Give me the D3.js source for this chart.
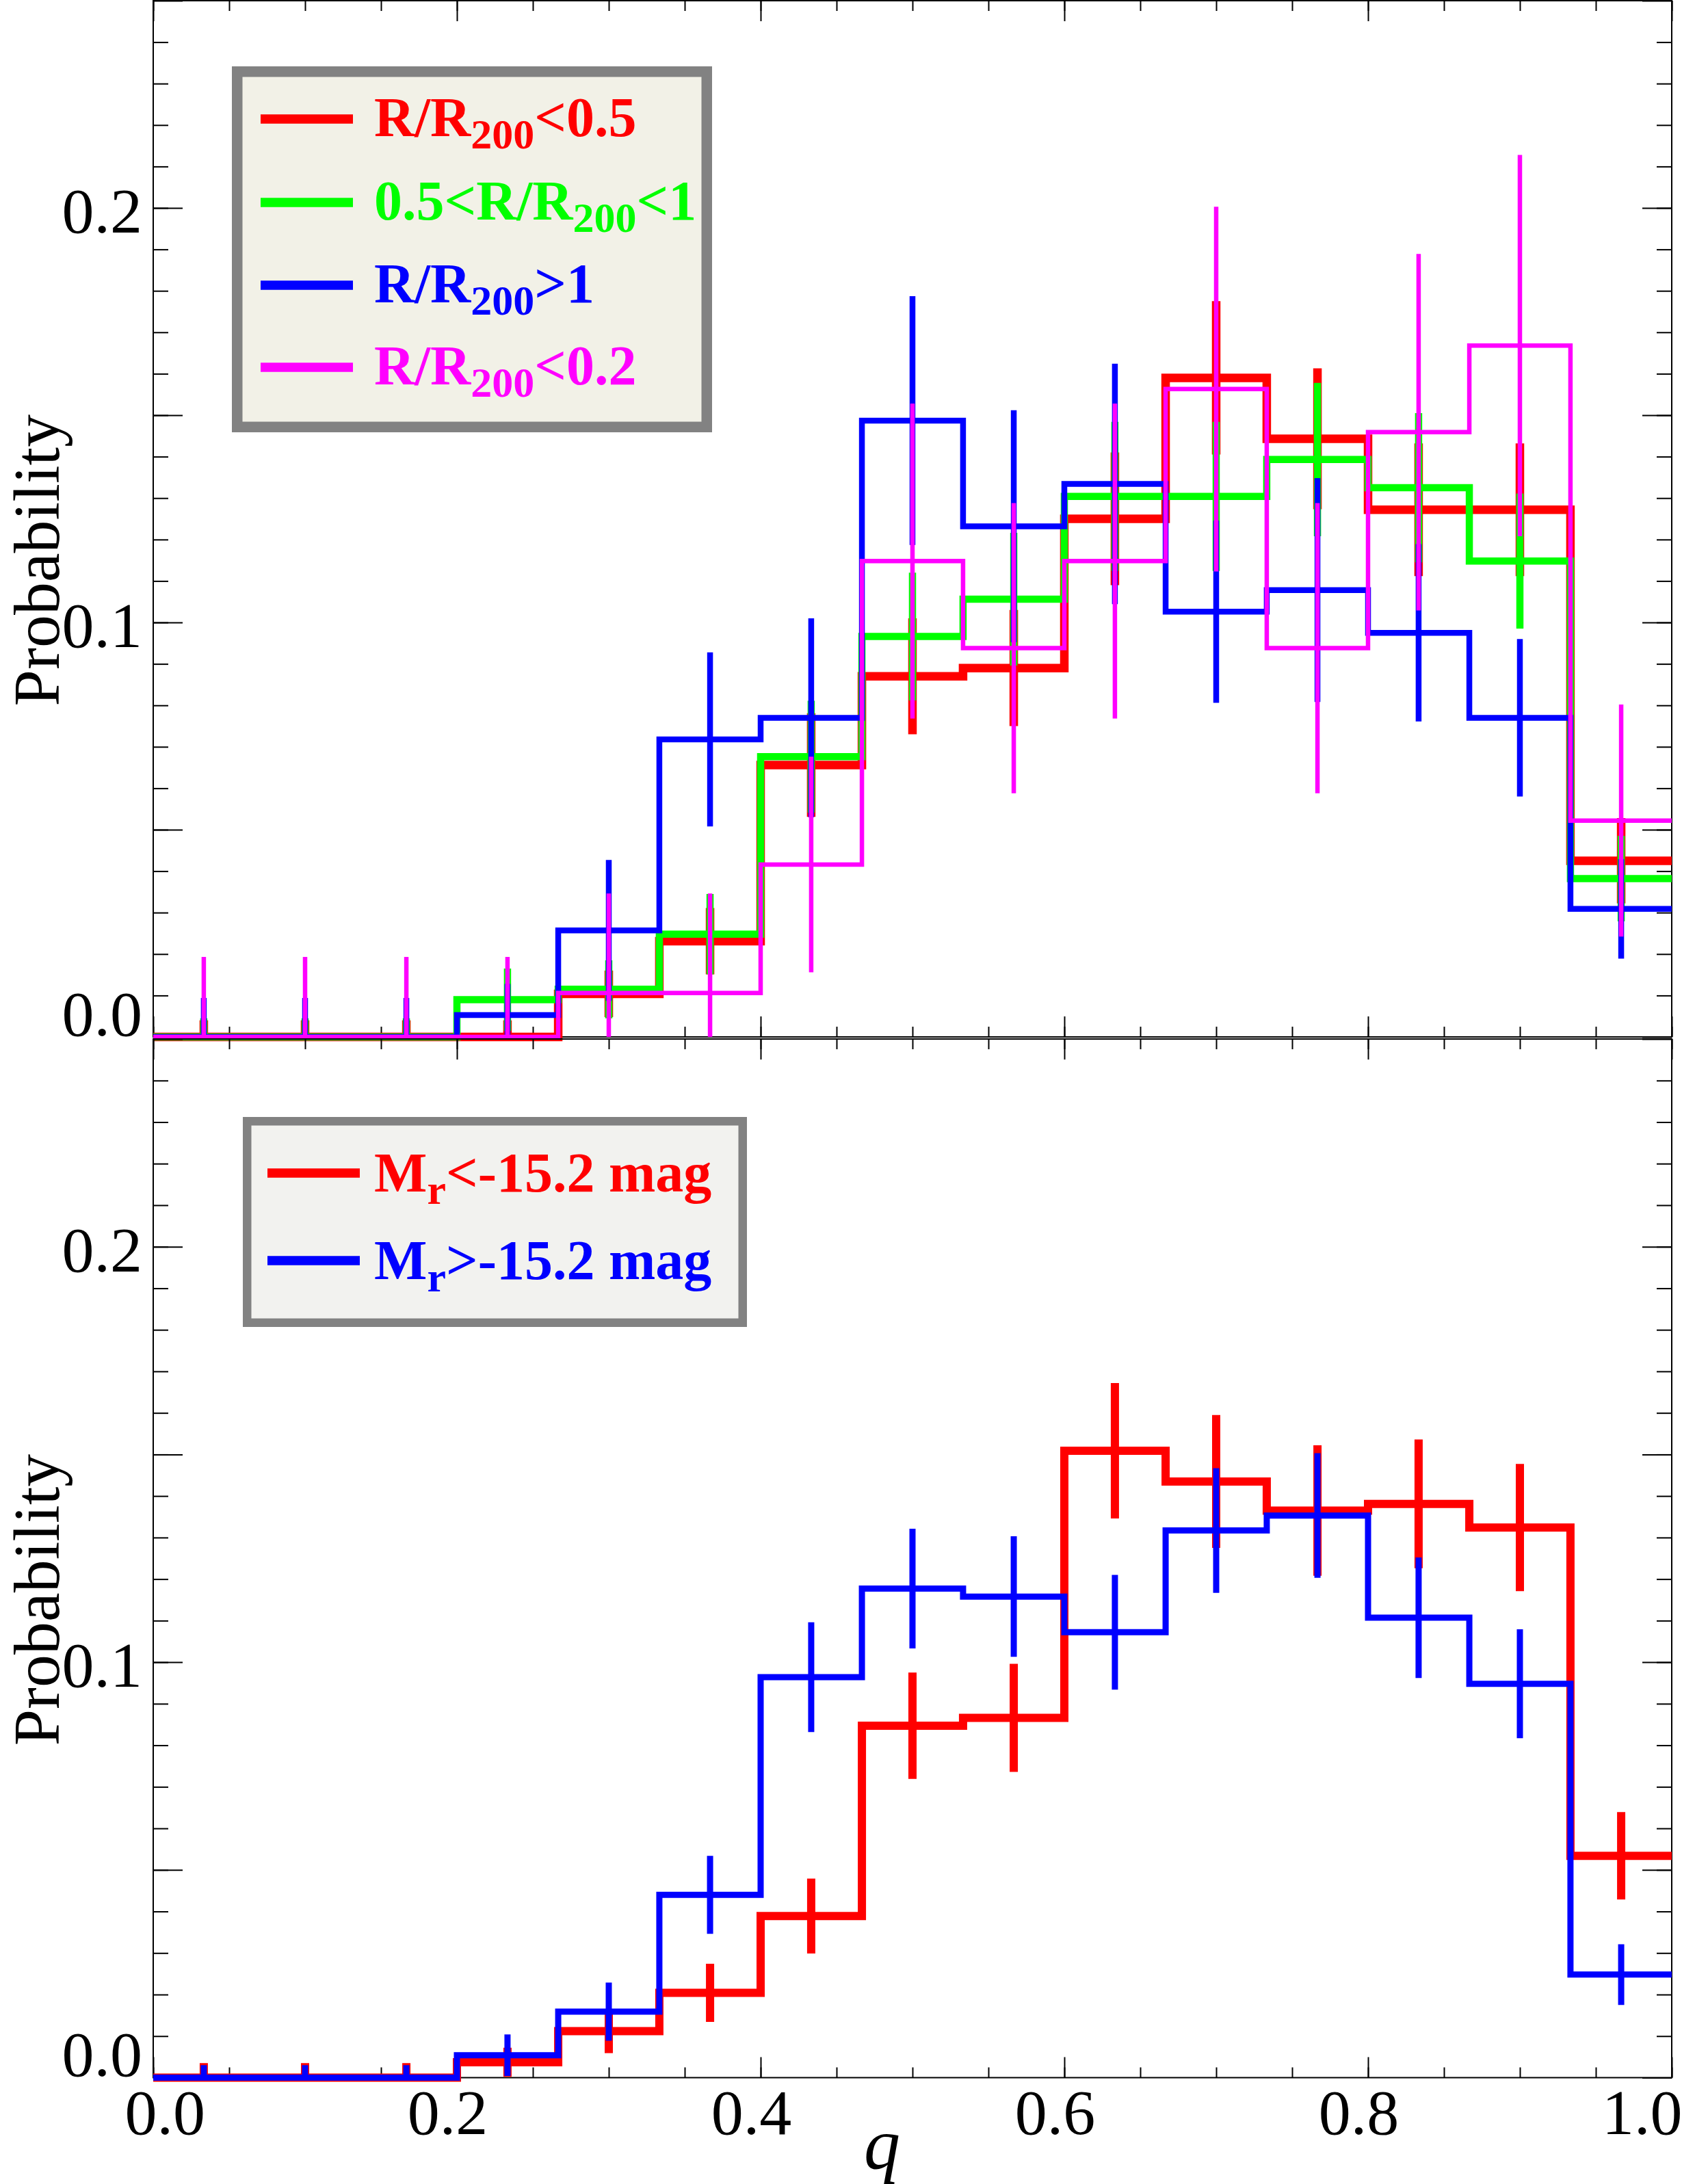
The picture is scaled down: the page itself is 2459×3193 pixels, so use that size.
<!DOCTYPE html>
<html><head><meta charset="utf-8">
<script src="https://cdn.jsdelivr.net/npm/d3@7"></script>
<style>html,body{margin:0;padding:0;background:#fff}svg{display:block}</style>
</head><body>
<svg id="chart" width="2459" height="3193"></svg>
<script>
// ---------------- DATA ----------------
const binEdges   = [0, 0.0667, 0.1333, 0.2, 0.2667, 0.3333, 0.4, 0.4667, 0.5333, 0.6, 0.6667, 0.7333, 0.8, 0.8667, 0.9333, 1.0];
const binCenters = [0.0333, 0.1, 0.1667, 0.2333, 0.3, 0.3667, 0.4333, 0.5, 0.5667, 0.6333, 0.7, 0.7667, 0.8333, 0.9, 0.9667];

// Top panel: split by cluster-centric radius
const radInnerVals = [0, 0, 0, 0, 0.0104, 0.0231, 0.0656, 0.087, 0.089, 0.125, 0.159, 0.1443, 0.1272, 0.1272, 0.0425];
const radInnerErr  = [0.004, 0.004, 0.004, 0.004, 0.0056, 0.008, 0.0125, 0.014, 0.014, 0.016, 0.0185, 0.017, 0.016, 0.016, 0.0103];
const radMidVals   = [0, 0, 0, 0.009, 0.0115, 0.0248, 0.0676, 0.0966, 0.1056, 0.1304, 0.1304, 0.1393, 0.1325, 0.1148, 0.0382];
const radMidErr    = [0.0045, 0.0045, 0.0045, 0.0075, 0.007, 0.0097, 0.0135, 0.0154, 0.016, 0.018, 0.018, 0.0185, 0.018, 0.0163, 0.0103];
const radOuterVals = [0, 0, 0, 0.0053, 0.0257, 0.0718, 0.077, 0.1487, 0.1232, 0.1334, 0.1026, 0.1078, 0.0975, 0.077, 0.0309];
const radOuterErr  = [0.0094, 0.0094, 0.0094, 0.0075, 0.017, 0.021, 0.024, 0.03, 0.028, 0.029, 0.022, 0.027, 0.0214, 0.019, 0.012];
const radCoreVals  = [0, 0, 0, 0, 0.0106, 0.0106, 0.0416, 0.1148, 0.0938, 0.1148, 0.1563, 0.0938, 0.1459, 0.1668, 0.0522];
const radCoreErr   = [0.0193, 0.0193, 0.0193, 0.0193, 0.024, 0.024, 0.026, 0.038, 0.035, 0.038, 0.044, 0.035, 0.043, 0.046, 0.028];

// Bottom panel: split by absolute magnitude
const brightVals = [0, 0, 0, 0.0037, 0.0112, 0.0204, 0.0389, 0.0847, 0.0866, 0.1509, 0.1435, 0.1365, 0.1381, 0.1324, 0.0534];
const brightErr  = [0.0035, 0.0035, 0.0035, 0.0035, 0.0053, 0.007, 0.009, 0.0128, 0.013, 0.0163, 0.016, 0.0157, 0.0155, 0.0153, 0.0105];
const faintVals  = [0, 0, 0, 0.0054, 0.0159, 0.044, 0.0964, 0.1177, 0.1158, 0.1072, 0.1317, 0.1353, 0.1107, 0.0948, 0.0248];
const faintErr   = [0.003, 0.003, 0.003, 0.005, 0.007, 0.0094, 0.0132, 0.0144, 0.0145, 0.0138, 0.015, 0.015, 0.0145, 0.0131, 0.0073];

// Ticks
const yMajorTicks  = [0, 0.05, 0.10, 0.15, 0.20, 0.25];
const yMajorLabels = ['0.0', '', '0.1', '', '0.2', ''];
const yMinorTicks  = d3.range(1, 25).map(i => i / 100);
const xMajorTicks  = [0, 0.2, 0.4, 0.6, 0.8, 1.0];
const xMajorLabels = ['0.0', '0.2', '0.4', '0.6', '0.8', '1.0'];
const xMinorTicks  = d3.range(0, 21).map(i => i / 20);

const yTitle = 'Probability';
const xTitle = 'q';

// ---------------- LAYOUT ----------------
const W = 2459, H = 3193;
const FONT = "'Liberation Serif','Times New Roman',Times,serif";
const svg = d3.select('#chart');
svg.append('rect').attr('width', W).attr('height', H).attr('fill', '#fff');

const x = d3.scaleLinear().domain([0, 1]).range([224, 2444]);

const panels = [
  {
    y: d3.scaleLinear().domain([0, 0.25]).range([1516, 1]),
    series: [
      {vals: radInnerVals, err: radInnerErr, color: '#ff0000', w: 12.5},
      {vals: radMidVals,   err: radMidErr,   color: '#00ff00', w: 10.5},
      {vals: radOuterVals, err: radOuterErr, color: '#0000ff', w: 8.5},
      {vals: radCoreVals,  err: radCoreErr,  color: '#ff00ff', w: 6.5}
    ],
    legend: {
      box: [339, 97, 1041, 632], border: 15.5, fill: '#f2f1e7',
      rows: [174, 296, 417, 537], lineX: [381, 516], lineW: 13.5, textX: 547, base: 25,
      items: [
        {color: '#ff0000', parts: [['R/R'], ['200', 1], ['<0.5']]},
        {color: '#00ff00', parts: [['0.5<R/R'], ['200', 1], ['<1']]},
        {color: '#0000ff', parts: [['R/R'], ['200', 1], ['>1']]},
        {color: '#ff00ff', parts: [['R/R'], ['200', 1], ['<0.2']]}
      ]
    },
    xLabels: false
  },
  {
    y: d3.scaleLinear().domain([0, 0.25]).range([3037.5, 1519]),
    series: [
      {vals: brightVals, err: brightErr, color: '#ff0000', w: 12},
      {vals: faintVals,  err: faintErr,  color: '#0000ff', w: 9}
    ],
    legend: {
      box: [355, 1633, 1092, 1940], border: 12.5, fill: '#f2f2ef',
      rows: [1715, 1843], lineX: [391, 526], lineW: 13.5, textX: 547, base: 27,
      items: [
        {color: '#ff0000', parts: [['M'], ['r', 1], ['<-15.2 mag']]},
        {color: '#0000ff', parts: [['M'], ['r', 1], ['>-15.2 mag']]}
      ]
    },
    xLabels: true
  }
];

const stepLine = (y) => d3.line()
  .x(d => x(d[0])).y(d => y(d[1]))
  .curve(d3.curveStepAfter);

panels.forEach(p => {
  const y = p.y;
  const [y0, y1] = y.range();   // bottom, top
  const g = svg.append('g');

  // frame
  g.append('rect')
    .attr('x', x(0)).attr('y', y1)
    .attr('width', x(1) - x(0)).attr('height', y0 - y1)
    .attr('fill', 'none').attr('stroke', '#000').attr('stroke-width', 2);

  // y ticks left / right
  const yMinorAxisL = d3.axisLeft(y).tickValues(yMinorTicks).tickSize(-22).tickFormat('');
  const yMinorAxisR = d3.axisRight(y).tickValues(yMinorTicks).tickSize(-22).tickFormat('');
  const yMajorAxisL = d3.axisLeft(y).tickValues(yMajorTicks).tickSize(-43).tickPadding(16)
    .tickFormat((d, i) => yMajorLabels[i]);
  const yMajorAxisR = d3.axisRight(y).tickValues(yMajorTicks).tickSize(-43).tickFormat('');

  [[yMinorAxisL, x(0)], [yMajorAxisL, x(0)], [yMinorAxisR, x(1)], [yMajorAxisR, x(1)]].forEach(([ax, tx]) => {
    const a = g.append('g').attr('transform', `translate(${tx},0)`).call(ax);
    a.select('.domain').remove();
    a.selectAll('line').attr('stroke', '#000').attr('stroke-width', 2);
  });
  g.selectAll('.tick text')
    .attr('font-family', FONT).attr('font-size', 94).attr('fill', '#000')
    .attr('dy', d => d === 0 ? (-3) + 'px' : '0.38em');

  // x ticks bottom / top
  const xMinB = d3.axisBottom(x).tickValues(xMinorTicks).tickSize(-15).tickFormat('');
  const xMajB = d3.axisBottom(x).tickValues(xMajorTicks).tickSize(-30).tickPadding(16)
    .tickFormat((d, i) => p.xLabels ? xMajorLabels[i] : '');
  const xMinT = d3.axisTop(x).tickValues(xMinorTicks).tickSize(-15).tickFormat('');
  const xMajT = d3.axisTop(x).tickValues(xMajorTicks).tickSize(-30).tickFormat('');
  [[xMinB, y0], [xMajB, y0], [xMinT, y1], [xMajT, y1]].forEach(([ax, ty]) => {
    const a = g.append('g').attr('transform', `translate(0,${ty})`).call(ax);
    a.select('.domain').remove();
    a.selectAll('line').attr('stroke', '#000').attr('stroke-width', 2);
    a.selectAll('text')
      .attr('font-family', FONT).attr('font-size', 94).attr('fill', '#000')
      .attr('text-anchor', (d, i) => i === 0 ? 'start' : (i === xMajorTicks.length - 1 ? 'end' : 'middle'))
      .attr('dx', (d, i) => i === 0 ? -42 : (i === xMajorTicks.length - 1 ? 15 : -14));
  });

  // data
  p.series.forEach(s => {
    const pts = binEdges.slice(0, -1).map((e, i) => [e, s.vals[i]]);
    pts.push([binEdges[binEdges.length - 1], s.vals[s.vals.length - 1]]);
    g.append('path').attr('d', stepLine(y)(pts))
      .attr('fill', 'none').attr('stroke', s.color).attr('stroke-width', s.w)
      .attr('stroke-linejoin', 'miter').attr('stroke-linecap', 'butt');
    g.selectAll(null).data(binCenters).enter().append('line')
      .attr('x1', d => x(d)).attr('x2', d => x(d))
      .attr('y1', (d, i) => y(Math.max(0, s.vals[i] - s.err[i])))
      .attr('y2', (d, i) => y(s.vals[i] + s.err[i]))
      .attr('stroke', s.color).attr('stroke-width', s.w);
  });

  // y title
  g.append('text')
    .attr('transform', `translate(86,${y(0.115)}) rotate(-90)`)
    .attr('text-anchor', 'middle')
    .attr('font-family', FONT).attr('font-size', 96).attr('fill', '#000')
    .text(yTitle);

  // legend
  const L = p.legend;
  const [bx0, by0, bx1, by1] = L.box;
  g.append('rect')
    .attr('x', bx0 + L.border / 2).attr('y', by0 + L.border / 2)
    .attr('width', bx1 - bx0 - L.border).attr('height', by1 - by0 - L.border)
    .attr('fill', L.fill).attr('stroke', '#828282').attr('stroke-width', L.border);
  L.items.forEach((it, i) => {
    const ry = L.rows[i];
    g.append('line')
      .attr('x1', L.lineX[0]).attr('x2', L.lineX[1]).attr('y1', ry).attr('y2', ry)
      .attr('stroke', it.color).attr('stroke-width', L.lineW);
    const t = g.append('text')
      .attr('x', L.textX).attr('y', ry + L.base)
      .attr('font-family', FONT).attr('font-weight', 'bold').attr('font-size', 82)
      .attr('fill', it.color);
    let sub = false;
    it.parts.forEach(([txt, isSub]) => {
      const ts = t.append('tspan').text(txt);
      if (isSub && !sub) { ts.attr('dy', 18).attr('font-size', 62); sub = true; }
      else if (!isSub && sub) { ts.attr('dy', -18).attr('font-size', 82); sub = false; }
    });
  });
});

// x title
svg.append('text')
  .attr('x', x(0.48)).attr('y', 3170)
  .attr('text-anchor', 'middle')
  .attr('font-family', FONT).attr('font-style', 'italic').attr('font-size', 106)
  .attr('fill', '#000').text(xTitle);
</script>
</body></html>
